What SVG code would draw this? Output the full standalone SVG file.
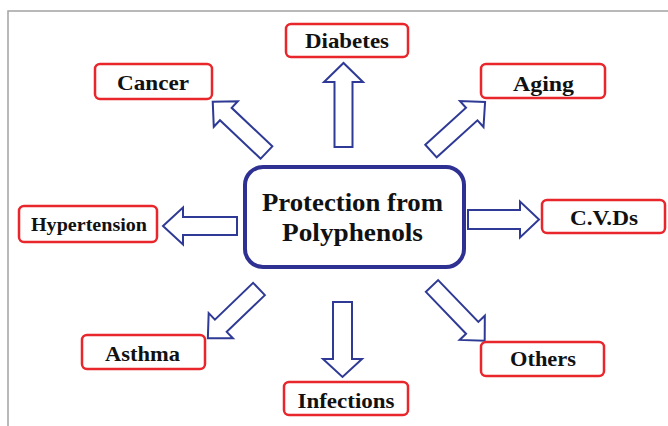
<svg xmlns="http://www.w3.org/2000/svg" width="668" height="426" viewBox="0 0 668 426">
<style>
.lbl{fill:#fff;stroke:#e8262b;stroke-width:2.5}
.t{font-family:"Liberation Serif","Times New Roman",serif;font-weight:bold;font-size:22px;fill:#111;text-anchor:middle}
.ct{font-size:26px}
.sm{font-size:19px}
.arr{fill:#fff;stroke:#2e3a95;stroke-width:2;stroke-linejoin:miter}
</style>
<rect width="668" height="426" fill="#fff"/>
<path d="M8,426 V11 H668" fill="none" stroke="#a3a3a3" stroke-width="1.5"/>
<g id="connectors">
<path class="arr" transform="translate(343.5,147) rotate(-90)" d="M0,-9 H65 V-19.5 L84,0 L65,19.5 V9 H0 Z"/>
<path class="arr" transform="translate(342.5,302) rotate(90)" d="M0,-9.5 H57 V-19.5 L75,0 L57,19.5 V9.5 H0 Z"/>
<path class="arr" transform="translate(237,226) rotate(180)" d="M0,-9 H54 V-18.5 L74,0 L54,18.5 V9 H0 Z"/>
<path class="arr" transform="translate(468,219.5)" d="M0,-9.5 H52 V-18 L71,0 L52,18 V9.5 H0 Z"/>
<path class="arr" transform="translate(266.5,152.5) rotate(-136.6)" d="M0,-8.5 H56 V-17.5 L74,0 L56,17.5 V8.5 H0 Z"/>
<path class="arr" transform="translate(431,151) rotate(-42.2)" d="M0,-8.5 H55 V-17.5 L73,0 L55,17.5 V8.5 H0 Z"/>
<path class="arr" transform="translate(259,289) rotate(136.1)" d="M0,-8.5 H53 V-17.5 L71,0 L53,17.5 V8.5 H0 Z"/>
<path class="arr" transform="translate(432,286) rotate(46.1)" d="M0,-8.5 H58 V-17.5 L76,0 L58,17.5 V8.5 H0 Z"/>
</g>
<g id="center">
<rect x="245" y="167" width="219" height="100" rx="18" fill="#fff" stroke="#2e3192" stroke-width="4"/>
<text class="t ct" x="352.5" y="211" textLength="181" lengthAdjust="spacingAndGlyphs">Protection from</text>
<text class="t ct" x="352.5" y="241" textLength="141" lengthAdjust="spacingAndGlyphs">Polyphenols</text>
</g>
<g id="diabetes">
<rect class="lbl" x="286" y="24" width="122" height="33" rx="5"/>
<text class="t" x="347" y="48" textLength="84" lengthAdjust="spacingAndGlyphs">Diabetes</text>
</g>
<g id="cancer">
<rect class="lbl" x="95" y="64" width="117" height="35" rx="5"/>
<text class="t" x="153" y="90" textLength="72" lengthAdjust="spacingAndGlyphs">Cancer</text>
</g>
<g id="aging">
<rect class="lbl" x="481" y="64" width="124" height="34" rx="5"/>
<text class="t" x="543.5" y="91" textLength="61" lengthAdjust="spacingAndGlyphs">Aging</text>
</g>
<g id="hypertension">
<rect class="lbl" x="19" y="206" width="138" height="36" rx="5"/>
<text class="t sm" x="89" y="231" textLength="116" lengthAdjust="spacingAndGlyphs">Hypertension</text>
</g>
<g id="cvds">
<rect class="lbl" x="542" y="200" width="123" height="33" rx="5"/>
<text class="t" x="604" y="225" textLength="68" lengthAdjust="spacingAndGlyphs">C.V.Ds</text>
</g>
<g id="asthma">
<rect class="lbl" x="82" y="335" width="123" height="34" rx="5"/>
<text class="t" x="142.5" y="361" textLength="75" lengthAdjust="spacingAndGlyphs">Asthma</text>
</g>
<g id="infections">
<rect class="lbl" x="284" y="382" width="124" height="33" rx="5"/>
<text class="t" x="346" y="408" textLength="97" lengthAdjust="spacingAndGlyphs">Infections</text>
</g>
<g id="others">
<rect class="lbl" x="481" y="342" width="123" height="34" rx="5"/>
<text class="t" x="543" y="366" textLength="66" lengthAdjust="spacingAndGlyphs">Others</text>
</g>
</svg>
